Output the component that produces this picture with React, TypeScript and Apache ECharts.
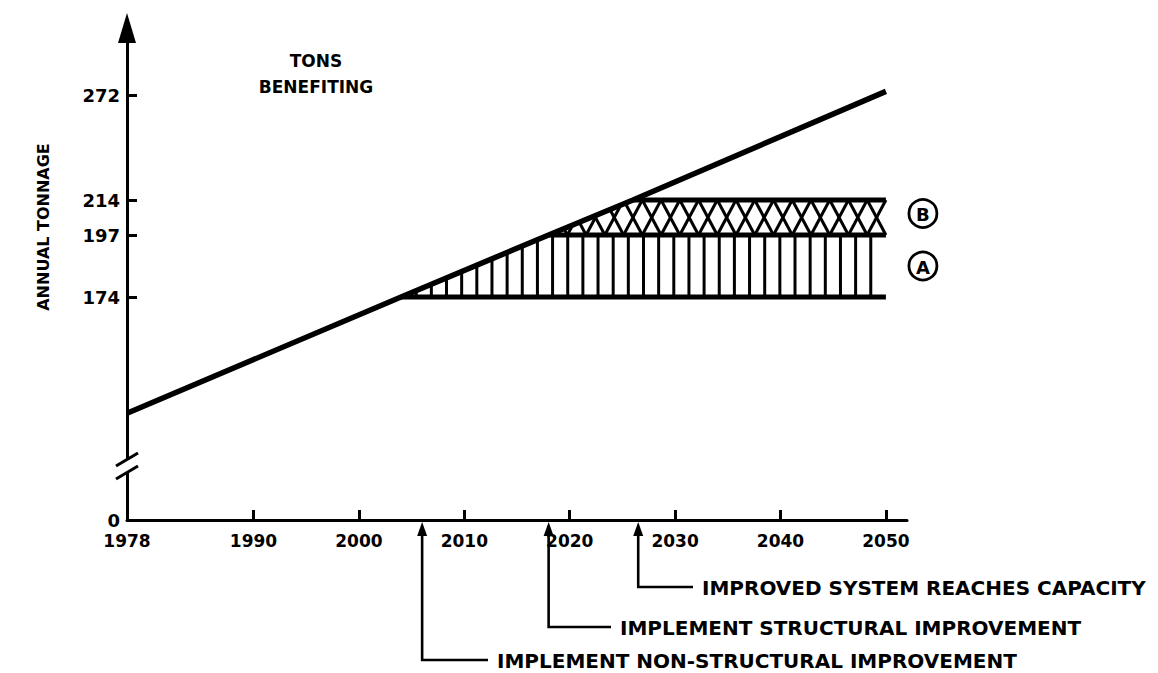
import React, { useEffect, useRef } from "react";
import * as echarts from "echarts";

// ---- data ----
const trendYears = [1978, 2004, 2018, 2026, 2050];
const trendTons = [131, 174, 197, 214, 274];
const levelTons = [174, 197, 214];
const levelStartYears = [2004, 2018, 2026];
const endYear = 2050;
const yTickTons = [174, 197, 214, 272];
const yLabelTons = [0, 174, 197, 214, 272];
const xLabelYears = [1978, 1990, 2000, 2010, 2020, 2030, 2040, 2050];
const xTickYears = [1990, 2000, 2010, 2020, 2030, 2040, 2050];
const eventYears = [2026.5, 2018, 2006];
const eventLabels = [
  "IMPROVED SYSTEM REACHES CAPACITY",
  "IMPLEMENT STRUCTURAL IMPROVEMENT",
  "IMPLEMENT NON-STRUCTURAL IMPROVEMENT",
];
const bandNames = ["A", "B"];
const titleLines = ["TONS", "BENEFITING"];
const yAxisTitle = "ANNUAL TONNAGE";

// schematic (piecewise) tonnage scale of the original drawing
const scaleTons = [0, 110, 174, 197, 214, 272, 320];
const scalePos = [0, 50, 223, 285, 320, 425, 512];

function interp(v: number, xs: number[], ys: number[]) {
  if (v <= xs[0]) return ys[0];
  for (let i = 1; i < xs.length; i++) {
    if (v <= xs[i]) {
      const t = (v - xs[i - 1]) / (xs[i] - xs[i - 1]);
      return ys[i - 1] + t * (ys[i] - ys[i - 1]);
    }
  }
  return ys[ys.length - 1];
}
const toPos = (t: number) => interp(t, scaleTons, scalePos);
const fromPos = (p: number) => interp(p, scalePos, scaleTons);

const FONT = "DejaVu Sans";
const BLACK = "#000";

export default function App() {
  const ref = useRef<HTMLDivElement>(null);
  useEffect(() => {
    if (!ref.current) return;
    const chart = echarts.init(ref.current, null, { renderer: "svg" });

    const renderHatch = (params: any, api: any) => {
      const trendPx = trendYears.map((y, i) => api.coord([y, toPos(trendTons[i])]));
      const trendAt = (x: number) => {
        for (let i = 1; i < trendPx.length; i++) {
          if (x <= trendPx[i][0]) {
            const t = (x - trendPx[i - 1][0]) / (trendPx[i][0] - trendPx[i - 1][0]);
            return trendPx[i - 1][1] + t * (trendPx[i][1] - trendPx[i - 1][1]);
          }
        }
        return trendPx[trendPx.length - 1][1];
      };
      const xEnd = api.coord([endYear, 0])[0];
      const yL = levelTons.map((t) => api.coord([endYear, toPos(t)])[1]);
      const children: any[] = [];
      const st = { stroke: BLACK, lineWidth: 3 };
      // band A: vertical hatching
      const xA0 = api.coord([levelStartYears[0], 0])[0];
      const nA = Math.round((xEnd - xA0) / 15);
      const stepA = (xEnd - xA0) / nA;
      for (let k = 1; k < nA; k++) {
        const x = xA0 + k * stepA;
        const top = Math.max(yL[1], trendAt(x));
        if (yL[0] - top > 2) {
          children.push({ type: "line", shape: { x1: x, y1: yL[0], x2: x, y2: top }, style: st });
        }
      }
      // band B: cross hatching, clipped below the trend line
      const p1 = api.coord([levelStartYears[1], toPos(levelTons[1])]);
      const p2 = api.coord([levelStartYears[2], toPos(levelTons[2])]);
      const m = (p2[1] - p1[1]) / (p2[0] - p1[0]);
      const f = (x: number, y: number) => y - (p1[1] + m * (x - p1[0]));
      const clipSeg = (ax: number, ay: number, bx: number, by: number) => {
        const fa = f(ax, ay);
        const fb = f(bx, by);
        if (fa < 0 && fb < 0) return;
        if (fa < 0 || fb < 0) {
          const t = fa / (fa - fb);
          const cx = ax + t * (bx - ax);
          const cy = ay + t * (by - ay);
          if (fa < 0) { ax = cx; ay = cy; } else { bx = cx; by = cy; }
        }
        children.push({ type: "line", shape: { x1: ax, y1: ay, x2: bx, y2: by }, style: st });
      };
      const xB0 = p1[0];
      const nB = Math.round((xEnd - xB0) / 19);
      const P = (xEnd - xB0) / nB;
      for (let k = 0; k < nB; k++) {
        const a = xB0 + k * P;
        clipSeg(a, yL[2], a + P, yL[1]);
        clipSeg(a + P, yL[2], a, yL[1]);
      }
      return { type: "group", children };
    };

    const lineStyle = { color: BLACK, width: 5 };
    const series: any[] = [
      {
        type: "custom",
        coordinateSystem: "cartesian2d",
        data: [[endYear, 0]],
        renderItem: renderHatch,
        silent: true,
        z: 2,
      },
      {
        type: "line",
        data: trendYears.map((y, i) => [y, toPos(trendTons[i])]),
        symbol: "none",
        lineStyle: { ...lineStyle, width: 5.5 },
        z: 4,
      },
      ...levelTons.map((t, i) => ({
        type: "line",
        data: [
          [levelStartYears[i], toPos(t)],
          [endYear, toPos(t)],
        ],
        symbol: "none",
        lineStyle,
        z: 4,
      })),
    ];

    const labelStyle = { color: BLACK, fontFamily: FONT, fontWeight: "bold" };
    chart.setOption({
      animation: false,
      backgroundColor: "#fff",
      grid: { left: 127, right: 251, top: 28, bottom: 153 },
      xAxis: {
        type: "value",
        min: 1978,
        max: 2052,
        axisLine: { onZero: false, lineStyle: { color: BLACK, width: 3 } },
        axisTick: { show: true, inside: true, length: 10, customValues: xTickYears, lineStyle: { color: BLACK, width: 3 } },
        axisLabel: { ...labelStyle, fontSize: 17, margin: 12, customValues: xLabelYears, formatter: (v: number) => String(v) },
        splitLine: { show: false },
      },
      yAxis: {
        type: "value",
        min: 0,
        max: 492,
        axisLine: {
          show: true,
          onZero: false,
          symbol: ["none", "triangle"],
          symbolSize: [18, 30],
          lineStyle: { color: BLACK, width: 3 },
        },
        axisTick: { show: true, inside: true, length: 10, customValues: yTickTons.map(toPos), lineStyle: { color: BLACK, width: 3 } },
        axisLabel: {
          ...labelStyle,
          fontSize: 18,
          lineHeight: 18,
          margin: 7,
          customValues: yLabelTons.map(toPos),
          formatter: (v: number) => String(Math.round(fromPos(v))),
        },
        splitLine: { show: false },
      },
      series,
    });

    // annotations positioned through the chart's own coordinate conversion
    const px = (x: number, t: number) => chart.convertToPixel({ gridIndex: 0 }, [x, toPos(t)]) as number[];
    const origin = chart.convertToPixel({ gridIndex: 0 }, [1978, 0]) as number[];
    const ax0 = origin[0];
    const axY = origin[1];
    const xEndPx = px(endYear, 0)[0];
    const graphic: any[] = [];
    const font = (s: number) => `bold ${s}px "${FONT}"`;

    // axis break marks
    graphic.push({ type: "rect", shape: { x: ax0 - 5, y: axY - 61, width: 10, height: 13 }, style: { fill: "#fff" }, z: 50 });
    graphic.push({ type: "line", shape: { x1: ax0 - 11, y1: axY - 54, x2: ax0 + 11, y2: axY - 67 }, style: { stroke: BLACK, lineWidth: 3 }, z: 51 });
    graphic.push({ type: "line", shape: { x1: ax0 - 11, y1: axY - 41, x2: ax0 + 11, y2: axY - 54 }, style: { stroke: BLACK, lineWidth: 3 }, z: 51 });

    // title
    titleLines.forEach((t, i) => {
      graphic.push({ type: "text", x: 316, y: 61 + i * 26, style: { text: t, font: font(17), fill: BLACK, align: "center", verticalAlign: "middle" }, z: 50 });
    });
    // y axis title
    graphic.push({ type: "text", x: 43, y: 227, rotation: Math.PI / 2, style: { text: yAxisTitle, font: font(16), fill: BLACK, align: "center", verticalAlign: "middle" }, z: 50 });

    // band labels
    const bandMid = [
      (px(endYear, levelTons[0])[1] + px(endYear, levelTons[1])[1]) / 2,
      (px(endYear, levelTons[1])[1] + px(endYear, levelTons[2])[1]) / 2 - 4,
    ];
    bandNames.forEach((n, i) => {
      const cx = xEndPx + 37;
      graphic.push({ type: "circle", shape: { cx, cy: bandMid[i], r: 14 }, style: { fill: "#fff", stroke: BLACK, lineWidth: 2.8 }, z: 50 });
      graphic.push({ type: "text", x: cx, y: bandMid[i] + 1, style: { text: n, font: font(18), fill: BLACK, align: "center", verticalAlign: "middle" }, z: 51 });
    });

    // event arrows
    const rowY = [587, 627, 660];
    const textX = [702, 620, 497];
    eventYears.forEach((yr, i) => {
      const x = px(yr, 0)[0];
      graphic.push({
        type: "polyline",
        shape: { points: [[x, axY + 14], [x, rowY[i]], [textX[i] - 9, rowY[i]]] },
        style: { stroke: BLACK, lineWidth: 2.6, fill: null },
        z: 50,
      });
      graphic.push({
        type: "polygon",
        shape: { points: [[x, axY + 2], [x - 5, axY + 16], [x + 5, axY + 16]] },
        style: { fill: BLACK },
        z: 50,
      });
      graphic.push({
        type: "text",
        x: textX[i],
        y: rowY[i] + 1,
        style: { text: eventLabels[i], font: font(20), lineHeight: 20, fill: BLACK, align: "left", verticalAlign: "middle" },
        z: 50,
      });
    });

    chart.setOption({ graphic });
    return () => chart.dispose();
  }, []);

  return <div ref={ref} style={{ position: "absolute", left: 0, top: 0, width: 1158, height: 673, background: "#fff" }} />;
}
